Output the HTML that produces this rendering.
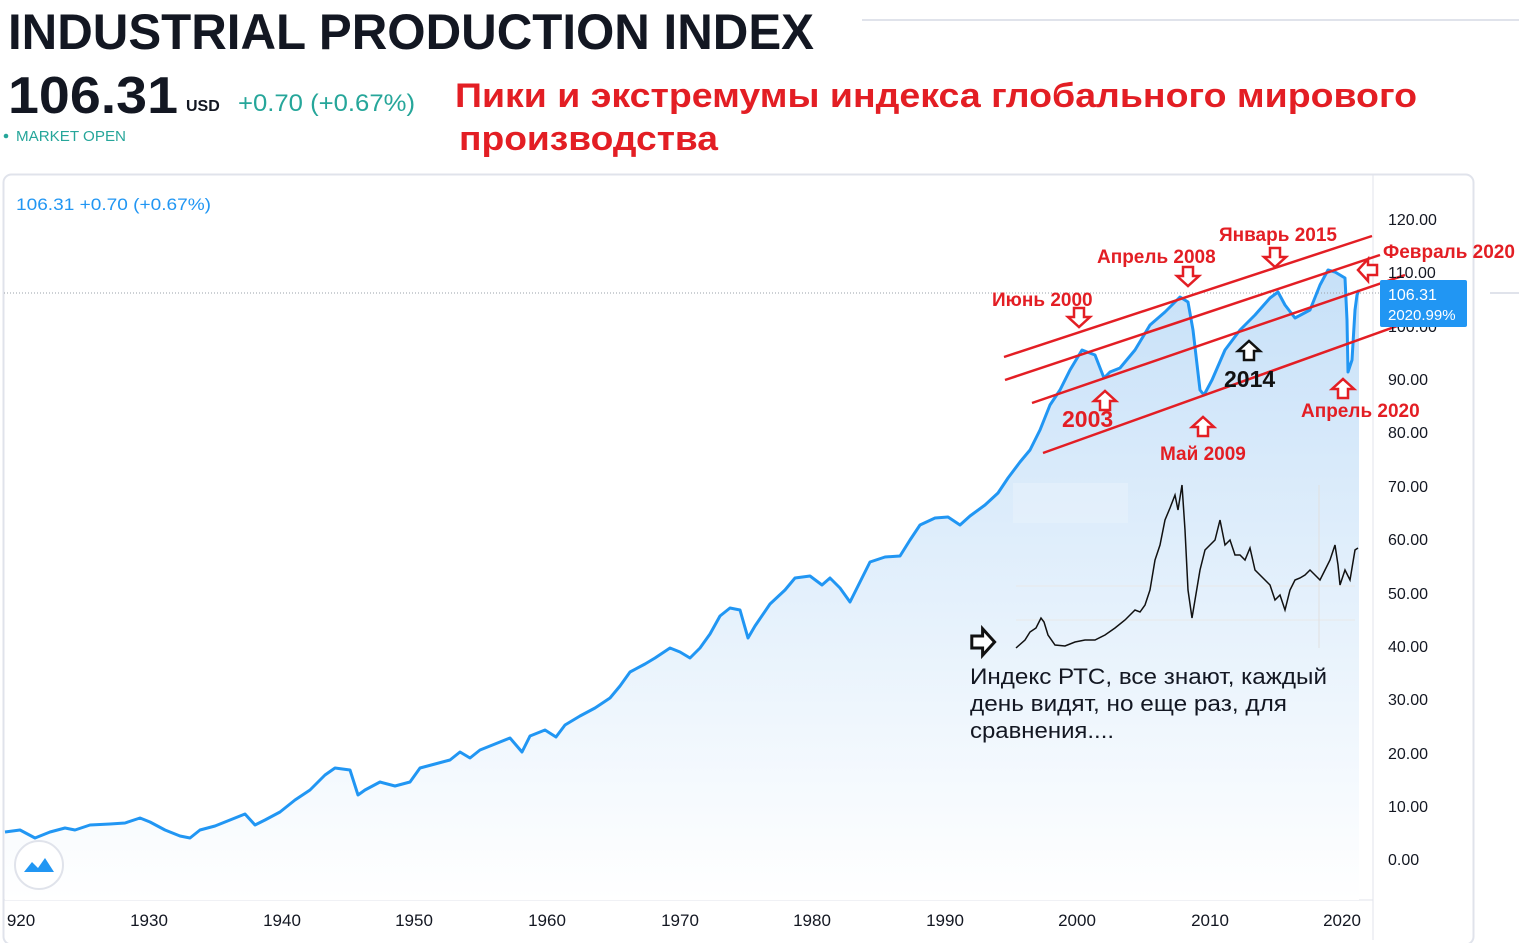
<!DOCTYPE html>
<html><head><meta charset="utf-8"><style>
html,body{margin:0;padding:0;background:#fff;width:1519px;height:943px;overflow:hidden}
svg{display:block}
</style></head><body>
<svg width="1519" height="943" viewBox="0 0 1519 943" xmlns="http://www.w3.org/2000/svg" font-family="'Liberation Sans', sans-serif">
<defs>
<linearGradient id="fillg" gradientUnits="userSpaceOnUse" x1="0" y1="260" x2="0" y2="900">
<stop offset="0" stop-color="#c6e0f8"/><stop offset="1" stop-color="#ffffff"/>
</linearGradient>
<polygon id="down" points="-5,-11 5,-11 5,-2 11,-2 0,8 -11,-2 -5,-2"/>
</defs>
<text x="8" y="49" font-size="50" font-weight="bold" fill="#131722" textLength="806" lengthAdjust="spacingAndGlyphs">INDUSTRIAL PRODUCTION INDEX</text>
<line x1="862" y1="20" x2="1519" y2="20" stroke="#e0e3eb" stroke-width="2"/>
<text x="8" y="113" font-size="52" font-weight="bold" fill="#131722" textLength="170" lengthAdjust="spacingAndGlyphs">106.31</text>
<text x="186" y="111" font-size="16" font-weight="bold" fill="#131722">USD</text>
<text x="238" y="111" font-size="24" fill="#26a69a" textLength="177" lengthAdjust="spacingAndGlyphs">+0.70 (+0.67%)</text>
<circle cx="6" cy="136" r="2.3" fill="#26a69a"/>
<text x="16" y="141" font-size="15" fill="#26a69a" textLength="110" lengthAdjust="spacingAndGlyphs">MARKET OPEN</text>
<text x="455" y="107" font-size="34" font-weight="bold" fill="#e31e24" textLength="962" lengthAdjust="spacingAndGlyphs">Пики и экстремумы индекса глобального мирового</text>
<text x="459" y="150" font-size="34" font-weight="bold" fill="#e31e24" textLength="259" lengthAdjust="spacingAndGlyphs">производства</text>
<rect x="3.5" y="174.5" width="1470" height="770" rx="8" fill="none" stroke="#e0e3eb" stroke-width="2"/>
<line x1="1373" y1="175" x2="1373" y2="940" stroke="#e0e3eb"/>
<line x1="4" y1="900" x2="1373" y2="900" stroke="#e0e3eb"/>
<line x1="1490" y1="293" x2="1519" y2="293" stroke="#e0e3eb" stroke-width="2"/>
<text x="16" y="210" font-size="17" fill="#2196f3" textLength="195" lengthAdjust="spacingAndGlyphs">106.31  +0.70 (+0.67%)</text>
<polygon fill="url(#fillg)" points="5,900 5,832 20,830 35,838 50,832 65,828 75,830 90,825 110,824 125,823 140,818 150,822 165,830 180,836 190,838 200,830 215,826 230,820 245,814 255,825 265,820 280,812 295,800 310,790 325,775 335,768 350,770 358,795 365,790 380,782 395,786 410,782 420,768 435,764 450,760 460,752 470,758 480,750 495,744 510,738 522,752 530,736 545,730 556,737 565,725 580,716 595,708 610,698 620,686 630,672 645,664 655,658 670,648 680,652 690,658 700,648 710,634 720,616 730,608 740,610 748,638 755,626 770,604 785,590 795,578 810,576 822,585 830,578 840,588 850,602 858,586 870,562 885,557 900,556 910,540 920,525 935,518 948,517 960,525 970,516 985,505 998,493 1008,478 1020,462 1030,450 1040,430 1050,405 1060,390 1070,370 1082,350 1095,355 1104,378 1110,372 1120,368 1135,350 1150,325 1165,312 1180,297 1188,302 1193,330 1200,390 1204,395 1212,380 1225,350 1240,330 1255,315 1270,298 1278,292 1285,305 1295,318 1310,310 1320,285 1328,270 1335,272 1345,278 1347,320 1348,372 1352,360 1355,310 1357,295 1359,290 1359,900"/>
<line x1="4" y1="293" x2="1380" y2="293" stroke="#9aa0a8" stroke-width="1" stroke-dasharray="1,2"/>
<polyline fill="none" stroke="#2196f3" stroke-width="3" stroke-linejoin="round" points="5,832 20,830 35,838 50,832 65,828 75,830 90,825 110,824 125,823 140,818 150,822 165,830 180,836 190,838 200,830 215,826 230,820 245,814 255,825 265,820 280,812 295,800 310,790 325,775 335,768 350,770 358,795 365,790 380,782 395,786 410,782 420,768 435,764 450,760 460,752 470,758 480,750 495,744 510,738 522,752 530,736 545,730 556,737 565,725 580,716 595,708 610,698 620,686 630,672 645,664 655,658 670,648 680,652 690,658 700,648 710,634 720,616 730,608 740,610 748,638 755,626 770,604 785,590 795,578 810,576 822,585 830,578 840,588 850,602 858,586 870,562 885,557 900,556 910,540 920,525 935,518 948,517 960,525 970,516 985,505 998,493 1008,478 1020,462 1030,450 1040,430 1050,405 1060,390 1070,370 1082,350 1095,355 1104,378 1110,372 1120,368 1135,350 1150,325 1165,312 1180,297 1188,302 1193,330 1200,390 1204,395 1212,380 1225,350 1240,330 1255,315 1270,298 1278,292 1285,305 1295,318 1310,310 1320,285 1328,270 1335,272 1345,278 1347,320 1348,372 1352,360 1355,310 1357,295 1359,290"/>
<rect x="1013" y="483" width="115" height="40" fill="#e6f1fb" opacity="0.7"/>
<line x1="1016" y1="586" x2="1355" y2="586" stroke="#e8e8e8"/>
<line x1="1016" y1="620" x2="1355" y2="620" stroke="#e8e8e8"/>
<line x1="1319" y1="485" x2="1319" y2="648" stroke="#e0e0e0"/>
<polyline fill="none" stroke="#111" stroke-width="1.5" points="1016,648 1025,640 1030,632 1036,628 1041,618 1044,622 1048,635 1055,645 1065,646 1075,642 1085,640 1095,640 1105,635 1115,628 1125,620 1135,610 1140,612 1145,605 1150,590 1155,560 1160,545 1165,520 1170,508 1175,495 1178,510 1182,485 1185,530 1188,590 1192,618 1195,600 1200,570 1205,550 1210,545 1215,540 1220,520 1225,545 1230,540 1235,555 1240,555 1245,560 1250,548 1255,570 1260,575 1265,580 1270,585 1275,600 1280,595 1285,610 1290,590 1295,580 1300,578 1305,575 1310,570 1315,575 1320,580 1325,570 1330,560 1335,545 1338,565 1340,585 1345,570 1350,580 1355,550 1358,548"/>
<g stroke="#e31e24" stroke-width="2.5">
<line x1="1004" y1="357" x2="1372" y2="236"/>
<line x1="1005" y1="380" x2="1380" y2="255"/>
<line x1="1032" y1="403" x2="1405" y2="275"/>
<line x1="1043" y1="453" x2="1400" y2="325"/>
</g>
<g fill="#fff" stroke-width="2.5">
<use href="#down" x="1079" y="319" stroke="#e31e24"/>
<use href="#down" x="1188" y="278" stroke="#e31e24"/>
<use href="#down" x="1275" y="259" stroke="#e31e24"/>
<use href="#down" transform="translate(1366,270) rotate(90)" stroke="#e31e24"/>
<use href="#down" transform="translate(1105,399) rotate(180)" stroke="#e31e24"/>
<use href="#down" transform="translate(1203,425) rotate(180)" stroke="#e31e24"/>
<use href="#down" transform="translate(1343,387) rotate(180)" stroke="#e31e24"/>
<use href="#down" transform="translate(1249,349) rotate(180)" stroke="#111"/>
<use href="#down" transform="translate(985,642) rotate(-90) scale(1.2)" stroke="#111"/>
</g>
<g fill="#e31e24" font-weight="bold" font-size="19">
<text x="992" y="306">Июнь 2000</text>
<text x="1097" y="263">Апрель 2008</text>
<text x="1219" y="241">Январь 2015</text>
<text x="1383" y="258">Февраль 2020</text>
<text x="1062" y="427" font-size="23">2003</text>
<text x="1160" y="460">Май 2009</text>
<text x="1301" y="417">Апрель 2020</text>
</g>
<text x="1224" y="387" font-size="23" font-weight="bold" fill="#111">2014</text>
<g font-size="22" fill="#131722">
<text x="970" y="684" textLength="357" lengthAdjust="spacingAndGlyphs">Индекс РТС, все знают, каждый</text>
<text x="970" y="711" textLength="317" lengthAdjust="spacingAndGlyphs">день видят, но еще раз, для</text>
<text x="970" y="738" textLength="144" lengthAdjust="spacingAndGlyphs">сравнения....</text>
</g>
<g font-size="16" fill="#131722">
<text x="1388" y="225">120.00</text>
<text x="1388" y="278">110.00</text>
<text x="1388" y="332">100.00</text>
<text x="1388" y="385">90.00</text>
<text x="1388" y="438">80.00</text>
<text x="1388" y="492">70.00</text>
<text x="1388" y="545">60.00</text>
<text x="1388" y="599">50.00</text>
<text x="1388" y="652">40.00</text>
<text x="1388" y="705">30.00</text>
<text x="1388" y="759">20.00</text>
<text x="1388" y="812">10.00</text>
<text x="1388" y="865">0.00</text>
</g>
<rect x="1380" y="280" width="87" height="47" rx="2" fill="#2196f3"/>
<text x="1388" y="300" font-size="16" fill="#fff">106.31</text>
<text x="1388" y="320" font-size="15" fill="#fff">2020.99%</text>
<g font-size="17" fill="#131722" text-anchor="middle">
<text x="21" y="926">920</text>
<text x="149" y="926">1930</text>
<text x="282" y="926">1940</text>
<text x="414" y="926">1950</text>
<text x="547" y="926">1960</text>
<text x="680" y="926">1970</text>
<text x="812" y="926">1980</text>
<text x="945" y="926">1990</text>
<text x="1077" y="926">2000</text>
<text x="1210" y="926">2010</text>
<text x="1342" y="926">2020</text>
</g>
<circle cx="39" cy="865" r="24" fill="#fff" stroke="#e0e3eb" stroke-width="2"/>
<path d="M24,872 L32,862 L38,868 L45,858 L54,872 Z" fill="#2196f3"/>
</svg>
</body></html>
